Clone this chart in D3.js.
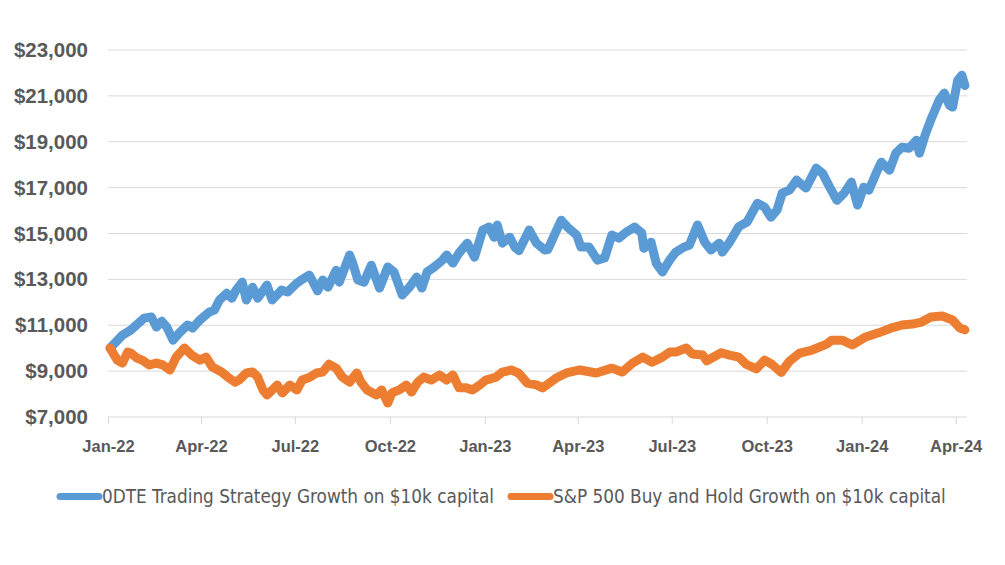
<!DOCTYPE html>
<html>
<head>
<meta charset="utf-8">
<script src="https://cdn.jsdelivr.net/npm/d3@7"></script>
<style>
  body { margin: 0; background: #fff; }
  svg { display: block; }
</style>
</head>
<body>
<svg width="1005" height="565"></svg>
<script>
// strategy series
const strategyDates = [
  "2022-01-03","2022-01-15","2022-01-23","2022-02-05","2022-02-12","2022-02-17","2022-02-22","2022-02-27",
  "2022-03-05","2022-03-11","2022-03-19","2022-03-24","2022-03-31","2022-04-09","2022-04-14","2022-04-19",
  "2022-04-26","2022-05-01","2022-05-05","2022-05-11","2022-05-15","2022-05-21","2022-05-26","2022-06-04",
  "2022-06-09","2022-06-18","2022-06-24","2022-07-03","2022-07-07","2022-07-15","2022-07-23","2022-07-28",
  "2022-08-02","2022-08-10","2022-08-13","2022-08-23","2022-08-26","2022-08-31","2022-09-06","2022-09-13",
  "2022-09-21","2022-09-29","2022-10-05","2022-10-13","2022-10-20","2022-10-27","2022-11-01","2022-11-06",
  "2022-11-13","2022-11-21","2022-11-25","2022-12-01","2022-12-07","2022-12-15","2022-12-22","2022-12-30",
  "2023-01-05","2023-01-10","2023-01-13","2023-01-18","2023-01-25","2023-01-30","2023-02-03","2023-02-13",
  "2023-02-20","2023-02-28","2023-03-03","2023-03-09","2023-03-16","2023-03-22","2023-03-31","2023-04-04",
  "2023-04-12","2023-04-20","2023-04-27","2023-05-04","2023-05-11","2023-05-18","2023-05-26","2023-06-02",
  "2023-06-04","2023-06-11","2023-06-16","2023-06-22","2023-06-29","2023-07-05","2023-07-13","2023-07-18",
  "2023-07-26","2023-08-02","2023-08-08","2023-08-16","2023-08-19","2023-08-26","2023-09-04","2023-09-12",
  "2023-09-22","2023-09-29","2023-10-05","2023-10-11","2023-10-16","2023-10-23","2023-10-30","2023-11-08",
  "2023-11-18","2023-11-24","2023-12-01","2023-12-08","2023-12-15","2023-12-22","2023-12-28","2024-01-03",
  "2024-01-08","2024-01-15","2024-01-20","2024-01-28","2024-02-03","2024-02-09","2024-02-16","2024-02-23",
  "2024-02-26","2024-03-03","2024-03-09","2024-03-16","2024-03-21","2024-03-26","2024-03-29","2024-04-03",
  "2024-04-07","2024-04-10"
];
const strategyValues = [
  10000,10570,10790,11310,11360,10920,11180,10920,
  10350,10660,11010,10880,11230,11570,11660,12100,
  12400,12180,12530,12880,12100,12660,12180,12750,
  12100,12530,12450,12840,12970,13190,12500,12970,
  12660,13400,12880,14060,13710,12970,12880,13620,
  12620,13540,13320,12320,12660,13100,12620,13320,
  13540,13840,14060,13710,14150,14580,13970,15150,
  15280,14840,15370,14580,14840,14410,14250,15150,
  14580,14280,14300,14900,15580,15280,14930,14410,
  14410,13840,13930,14930,14800,15060,15280,15020,
  14360,14620,13710,13320,13840,14190,14410,14490,
  15370,14620,14280,14580,14190,14620,15300,15500,
  16320,16150,15710,16020,16760,16890,17330,16980,
  17850,17630,17020,16450,16760,17240,16240,17020,
  16890,17630,18110,17760,18500,18760,18720,19070,
  18500,19370,20070,20810,21120,20590,20510,21680,
  21900,21450
];

// S&P 500 series
const spxDates = [
  "2022-01-03","2022-01-10","2022-01-15","2022-01-20","2022-01-23","2022-01-29","2022-02-03","2022-02-10",
  "2022-02-17","2022-02-23","2022-03-02","2022-03-08","2022-03-16","2022-03-23","2022-03-31","2022-04-06",
  "2022-04-12","2022-04-21","2022-04-27","2022-05-04","2022-05-08","2022-05-15","2022-05-21","2022-05-26",
  "2022-05-31","2022-06-04","2022-06-09","2022-06-14","2022-06-19","2022-06-26","2022-07-03","2022-07-08",
  "2022-07-15","2022-07-22","2022-07-28","2022-08-03","2022-08-10","2022-08-16","2022-08-23","2022-08-30",
  "2022-09-03","2022-09-09","2022-09-18","2022-09-23","2022-09-29","2022-10-03","2022-10-10","2022-10-17",
  "2022-10-22","2022-10-28","2022-11-03","2022-11-10","2022-11-18","2022-11-25","2022-12-01","2022-12-07",
  "2022-12-14","2022-12-20","2022-12-27","2023-01-02","2023-01-12","2023-01-18","2023-01-27","2023-02-03",
  "2023-02-11","2023-02-20","2023-02-26","2023-03-11","2023-03-21","2023-04-03","2023-04-19","2023-05-04",
  "2023-05-14","2023-05-24","2023-06-03","2023-06-12","2023-06-22","2023-06-29","2023-07-05","2023-07-15",
  "2023-07-21","2023-07-31","2023-08-04","2023-08-18","2023-08-26","2023-09-04","2023-09-11","2023-09-21",
  "2023-09-29","2023-10-06","2023-10-15","2023-10-23","2023-11-02","2023-11-14","2023-11-28","2023-12-03",
  "2023-12-13","2023-12-23","2024-01-05","2024-01-18","2024-01-31","2024-02-09","2024-02-19","2024-02-28",
  "2024-03-08","2024-03-19","2024-03-29","2024-04-05","2024-04-10"
];
const spxValues = [
  10000,9480,9350,9830,9790,9570,9480,9270,
  9350,9270,9050,9610,10010,9700,9480,9610,
  9180,8960,8740,8520,8610,8920,8960,8740,
  8180,7960,8180,8390,8050,8390,8180,8610,
  8720,8920,8960,9300,9130,8740,8520,8920,
  8520,8180,7960,8180,7610,8050,8180,8390,
  8090,8520,8740,8610,8830,8610,8830,8270,
  8270,8180,8390,8610,8740,8960,9050,8900,
  8480,8400,8270,8700,8920,9050,8920,9130,
  8960,9350,9610,9390,9610,9830,9830,10010,
  9750,9700,9450,9800,9700,9610,9300,9100,
  9480,9300,8940,9430,9790,9920,10180,10350,
  10350,10140,10490,10680,10900,11010,11050,11140,
  11360,11400,11230,10880,10800
];

const seriesNames = [
  "0DTE Trading Strategy Growth on $10k capital",
  "S&P 500 Buy and Hold Growth on $10k capital"
];
const seriesColors = ["#5b9bd5", "#ed7d31"];
const yTicks = [7000, 9000, 11000, 13000, 15000, 17000, 19000, 21000, 23000];
const xTicks = ["2022-01-01","2022-04-01","2022-07-01","2022-10-01","2023-01-01",
                "2023-04-01","2023-07-01","2023-10-01","2024-01-01","2024-04-01"];

const svg = d3.select("svg");
const parse = d3.timeParse("%Y-%m-%d");

const x = d3.scaleTime()
    .domain([parse("2022-01-01"), parse("2024-04-12")])
    .range([108, 967]);
const y = d3.scaleLinear()
    .domain([7000, 23000])
    .range([417, 50]);

// gridlines
svg.append("g")
    .selectAll("line")
    .data(yTicks.slice(1))
    .join("line")
    .attr("x1", 108).attr("x2", 967)
    .attr("y1", d => y(d)).attr("y2", d => y(d))
    .attr("stroke", "#d9d9d9")
    .attr("stroke-width", 1);

// y labels
svg.append("g")
    .selectAll("text")
    .data(yTicks)
    .join("text")
    .attr("x", 88)
    .attr("y", d => y(d) + 7)
    .attr("text-anchor", "end")
    .attr("font-family", "Liberation Sans, Arial, sans-serif")
    .attr("font-weight", "bold")
    .attr("font-size", 20.5)
    .attr("fill", "#595959")
    .text(d => "$" + d3.format(",")(d));

// x axis
const xAxis = svg.append("g")
    .attr("transform", "translate(0,417)")
    .call(d3.axisBottom(x)
        .tickValues(xTicks.map(parse))
        .tickSize(7)
        .tickPadding(16)
        .tickFormat(d3.timeFormat("%b-%y")));
xAxis.select(".domain").attr("stroke", "#d9d9d9").attr("d", "M108,0H967");
xAxis.selectAll(".tick line").attr("stroke", "#d9d9d9");
xAxis.selectAll(".tick text")
    .attr("font-family", "Liberation Sans, Arial, sans-serif")
    .attr("font-weight", "bold")
    .attr("font-size", 16.5)
    .attr("fill", "#595959");

// lines
const line = d3.line()
    .x(d => x(d.date))
    .y(d => y(d.value));

const series = [
  strategyDates.map((d, i) => ({ date: parse(d), value: strategyValues[i] })),
  spxDates.map((d, i) => ({ date: parse(d), value: spxValues[i] }))
];

svg.append("g")
    .selectAll("path")
    .data(series)
    .join("path")
    .attr("d", line)
    .attr("fill", "none")
    .attr("stroke", (d, i) => seriesColors[i])
    .attr("stroke-width", 9)
    .attr("stroke-linejoin", "round")
    .attr("stroke-linecap", "round");

// legend
const legendX = [57, 508];
const legend = svg.append("g")
    .selectAll("g")
    .data(seriesNames)
    .join("g")
    .attr("transform", (d, i) => `translate(${legendX[i]},496.5)`);

legend.append("line")
    .attr("x1", 3).attr("x2", 42)
    .attr("stroke", (d, i) => seriesColors[i])
    .attr("stroke-width", 7)
    .attr("stroke-linecap", "round");

legend.append("text")
    .attr("x", 45)
    .attr("y", 6.5)
    .attr("font-family", "Liberation Sans Narrow, DejaVu Sans Condensed, sans-serif")
    .attr("font-size", 18.8)
    .attr("fill", "#595959")
    .text(d => d);
</script>
</body>
</html>
